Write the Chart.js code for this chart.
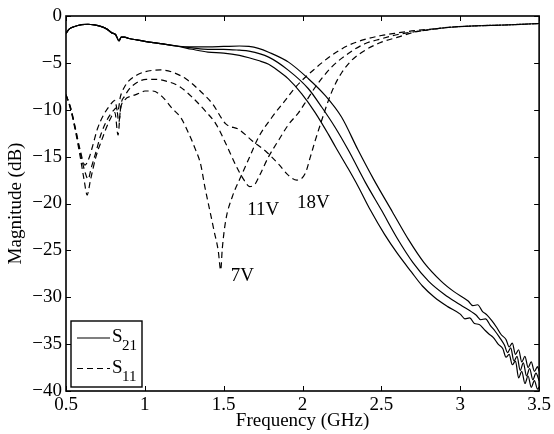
<!DOCTYPE html>
<html>
<head>
<meta charset="utf-8">
<script src="https://cdn.jsdelivr.net/npm/chart.js@4.4.1/dist/chart.umd.min.js"></script>
<style>
  html, body { margin: 0; padding: 0; background: #fff; }
  #wrap { width: 554px; height: 434px; }
</style>
</head>
<body>
<div id="wrap"><canvas id="chart" width="554" height="434"></canvas></div>
<script>
// frequency (GHz), magnitude (dB) pairs
const s21Pass = [[0.5,-1.85],[0.52,-1.4],[0.55,-1.15],[0.6,-0.92],[0.64,-0.88],[0.68,-0.95],[0.72,-1.1],
  [0.76,-1.4],[0.79,-1.8],[0.815,-2.0],[0.836,-2.65],[0.85,-2.25],[0.87,-2.25],[0.9,-2.4],[0.95,-2.55],
  [1.0,-2.7],[1.1,-2.95],[1.2,-3.2]]

const s21_7V = [[1.3,-3.55],[1.4,-3.85],[1.5,-3.95],[1.6,-4.2],[1.66,-4.45],[1.72,-4.75],[1.785,-5.15],
  [1.85,-5.9],[1.91,-6.7],[1.995,-8.3],[2.08,-10.3],[2.163,-12.6],[2.21,-14.0],[2.29,-16.3],[2.35,-18.1],
  [2.43,-20.7],[2.52,-23.3],[2.6,-25.3],[2.69,-27.3],[2.76,-28.8],[2.836,-30.0],[2.92,-31.0],[3.0,-31.8],
  [3.03,-32.3],[3.06,-32.2],[3.09,-32.8],[3.12,-32.9],[3.15,-33.4],[3.18,-33.9],[3.21,-34.3],[3.24,-35.0],
  [3.27,-35.5],[3.29,-36.4],[3.31,-36.1],[3.33,-37.2],[3.35,-36.8],[3.37,-38.6],[3.39,-37.9],[3.41,-39.2],
  [3.43,-38.4],[3.45,-39.6],[3.47,-38.9],[3.49,-39.8],[3.5,-39.6]]

const s21_11V = [[1.3,-3.4],[1.4,-3.55],[1.5,-3.55],[1.6,-3.65],[1.66,-3.75],[1.785,-4.39],[1.911,-5.8],
  [2.037,-7.76],[2.121,-9.71],[2.205,-11.84],[2.29,-14.3],[2.4,-17.8],[2.5,-20.7],[2.6,-23.7],[2.7,-26.3],
  [2.8,-28.3],[2.9,-29.7],[3.0,-30.8],[3.1,-31.9],[3.13,-32.4],[3.16,-32.3],[3.19,-33.0],[3.22,-33.6],
  [3.25,-34.3],[3.28,-35.1],[3.3,-35.9],[3.32,-35.4],[3.34,-36.8],[3.36,-36.3],[3.38,-37.8],[3.4,-37.0],
  [3.42,-38.4],[3.44,-37.6],[3.46,-38.8],[3.48,-38.1],[3.5,-38.9]]

const s21_18V = [[1.3,-3.3],[1.4,-3.3],[1.5,-3.25],[1.6,-3.2],[1.66,-3.25],[1.72,-3.45],[1.785,-3.86],
  [1.911,-4.92],[2.037,-6.69],[2.143,-8.47],[2.247,-10.78],[2.352,-14.3],[2.45,-17.4],[2.57,-20.9],
  [2.67,-23.8],[2.77,-26.3],[2.88,-28.3],[2.96,-29.4],[3.05,-30.4],[3.08,-30.9],[3.11,-30.8],[3.14,-31.5],
  [3.17,-31.9],[3.2,-32.5],[3.23,-33.2],[3.26,-34.0],[3.29,-34.5],[3.31,-35.3],[3.33,-34.9],[3.35,-36.1],
  [3.37,-35.6],[3.39,-36.9],[3.41,-36.3],[3.43,-37.5],[3.45,-36.9],[3.47,-37.9],[3.49,-37.4],[3.5,-37.9]]

const s11_7V = [[0.5,-8.4],[0.53,-10.0],[0.56,-12.3],[0.59,-15.0],[0.615,-17.5],[0.634,-19.1],[0.655,-17.5],
  [0.69,-15.0],[0.725,-13.3],[0.777,-11.1],[0.81,-10.3],[0.83,-12.7],[0.845,-10.0],[0.87,-9.0],[0.924,-8.5],
  [0.97,-8.2],[1.0,-8.0],[1.05,-8.0],[1.11,-8.6],[1.17,-9.8],[1.23,-10.9],[1.28,-12.6],[1.32,-14.2],
  [1.355,-15.9],[1.38,-18.2],[1.41,-20.6],[1.44,-23.0],[1.465,-25.0],[1.481,-27.1],[1.491,-24.8],
  [1.513,-21.8],[1.554,-19.3],[1.607,-17.2],[1.66,-15.2],[1.722,-12.9],[1.806,-10.8],[1.89,-9.0],
  [1.96,-7.5],[2.08,-5.6],[2.184,-4.2],[2.29,-3.14],[2.395,-2.5],[2.5,-2.08],[2.605,-1.8],[2.71,-1.56],
  [2.815,-1.4],[2.94,-1.2],[3.1,-1.05],[3.3,-0.95],[3.5,-0.8]]

const s11_11V = [[0.5,-8.4],[0.53,-9.9],[0.56,-12.1],[0.59,-14.6],[0.62,-16.6],[0.64,-17.4],[0.66,-16.2],
  [0.69,-14.5],[0.72,-12.7],[0.76,-11.1],[0.8,-10.1],[0.82,-9.8],[0.835,-11.3],[0.85,-9.3],[0.87,-8.6],
  [0.903,-7.75],[0.95,-7.1],[1.008,-6.75],[1.07,-6.75],[1.135,-6.95],[1.218,-7.5],[1.302,-8.7],[1.387,-10.2],
  [1.45,-11.5],[1.513,-13.6],[1.576,-15.9],[1.625,-17.4],[1.665,-18.2],[1.7,-17.9],[1.722,-17.2],
  [1.785,-15.0],[1.85,-13.2],[1.91,-11.6],[1.975,-10.3],[2.03,-8.9],[2.08,-7.6],[2.184,-5.45],[2.29,-4.0],
  [2.395,-2.96],[2.5,-2.43],[2.605,-1.97],[2.71,-1.68],[2.815,-1.44],[2.94,-1.2],[3.1,-1.05],[3.3,-0.95],
  [3.5,-0.8]]

const s11_18V = [[0.5,-8.4],[0.53,-9.8],[0.56,-12.0],[0.59,-14.3],[0.62,-15.9],[0.645,-15.2],[0.67,-13.8],
  [0.7,-12.0],[0.74,-10.5],[0.78,-9.5],[0.81,-9.0],[0.828,-10.2],[0.845,-8.6],[0.87,-7.6],[0.9,-6.9],
  [0.95,-6.3],[1.0,-5.95],[1.05,-5.8],[1.1,-5.75],[1.176,-6.0],[1.26,-6.7],[1.344,-7.9],[1.428,-9.35],
  [1.513,-11.5],[1.596,-12.1],[1.68,-13.3],[1.765,-14.4],[1.848,-15.8],[1.911,-17.0],[1.964,-17.5],
  [2.017,-16.8],[2.05,-15.0],[2.08,-13.3],[2.12,-11.2],[2.164,-9.0],[2.206,-7.3],[2.25,-6.0],[2.31,-4.75],
  [2.395,-3.67],[2.5,-2.79],[2.605,-2.26],[2.71,-1.72],[2.815,-1.44],[2.94,-1.19],[3.1,-1.05],[3.3,-0.95],
  [3.5,-0.8]]

// voltage labels: text, frequency, magnitude of the text baseline-left corner
const voltLabels = [["7V", 1.544, -28.3], ["11V", 1.649, -21.2], ["18V", 1.964, -20.5]]

const FONT = "'Liberation Serif', 'Times New Roman', serif"
Chart.defaults.font.family = FONT
Chart.defaults.font.size = 19
Chart.defaults.color = "#000"

const toXY = pts => pts.map(p => ({ x: p[0], y: p[1] }))

function line(data, dashed) {
  return {
    data: toXY(data),
    borderColor: "#000",
    borderWidth: 1.2,
    borderDash: dashed ? [6, 4] : [],
    pointRadius: 0,
    cubicInterpolationMode: "monotone",
    fill: false
  }
}

const frame = {
  id: "frame",
  afterDraw(chart) {
    const { ctx, chartArea: a, scales: { x, y } } = chart
    ctx.save()
    ctx.strokeStyle = "#000"

    // inside ticks on all four sides
    ctx.lineWidth = 1
    ctx.beginPath()
    x.ticks.forEach(t => {
      const px = Math.round(x.getPixelForValue(t.value)) + 0.5
      ctx.moveTo(px, a.bottom); ctx.lineTo(px, a.bottom - 5)
      ctx.moveTo(px, a.top); ctx.lineTo(px, a.top + 5)
    })
    y.ticks.forEach(t => {
      const py = Math.round(y.getPixelForValue(t.value)) + 0.5
      ctx.moveTo(a.left, py); ctx.lineTo(a.left + 5, py)
      ctx.moveTo(a.right, py); ctx.lineTo(a.right - 5, py)
    })
    ctx.stroke()

    ctx.lineWidth = 1.6
    ctx.strokeRect(a.left, a.top, a.right - a.left, a.bottom - a.top)

    // voltage labels
    ctx.fillStyle = "#000"
    ctx.font = "19px " + FONT
    ctx.textBaseline = "alphabetic"
    ctx.textAlign = "left"
    voltLabels.forEach(([txt, fx, fy]) => {
      ctx.fillText(txt, x.getPixelForValue(fx), y.getPixelForValue(fy))
    })

    // legend box
    const lx = a.left + 5, ly = a.bottom - 70
    ctx.fillStyle = "#fff"
    ctx.fillRect(lx, ly, 71, 66)
    ctx.lineWidth = 1.4
    ctx.strokeRect(lx, ly, 71, 66)

    ctx.lineWidth = 1.2
    ctx.beginPath()
    ctx.moveTo(lx + 6, ly + 17); ctx.lineTo(lx + 39, ly + 17)
    ctx.stroke()
    ctx.setLineDash([6, 4])
    ctx.beginPath()
    ctx.moveTo(lx + 6, ly + 47.5); ctx.lineTo(lx + 39, ly + 47.5)
    ctx.stroke()
    ctx.setLineDash([])

    ctx.fillStyle = "#000"
    ctx.font = "19px " + FONT
    ctx.fillText("S", lx + 41, ly + 21)
    ctx.fillText("S", lx + 41, ly + 51.5)
    ctx.font = "15px " + FONT
    ctx.fillText("21", lx + 51, ly + 29)
    ctx.fillText("11", lx + 51, ly + 59.5)
    ctx.restore()
  }
}

new Chart(document.getElementById("chart"), {
  type: "line",
  data: {
    datasets: [
      line(s21Pass.concat(s21_7V), false),
      line(s21Pass.concat(s21_11V), false),
      line(s21Pass.concat(s21_18V), false),
      line(s11_7V, true),
      line(s11_11V, true),
      line(s11_18V, true)
    ]
  },
  options: {
    responsive: false,
    animation: false,
    events: [],
    layout: { padding: { left: 0, right: 12, top: 16, bottom: 0 } },
    scales: {
      x: {
        type: "linear",
        min: 0.5,
        max: 3.5,
        grid: { display: false, drawTicks: false },
        border: { display: false },
        ticks: { stepSize: 0.5, padding: 3, maxRotation: 0, callback: v => String(v) },
        title: { display: true, text: "Frequency (GHz)", padding: { top: 0, bottom: 2 } },
        afterFit(scale) { scale.height = 43 }
      },
      y: {
        min: -40,
        max: 0,
        grid: { display: false, drawTicks: false },
        border: { display: false },
        ticks: {
          stepSize: 5,
          padding: 4,
          callback: v => (v < 0 ? "\u2212" + Math.abs(v) : String(v))
        },
        title: { display: true, text: "Magnitude (dB)", padding: { top: 5, bottom: 0 } },
        afterFit(scale) { scale.width = 66 }
      }
    },
    plugins: {
      legend: { display: false },
      tooltip: { enabled: false }
    }
  },
  plugins: [frame]
})
</script>
</body>
</html>
